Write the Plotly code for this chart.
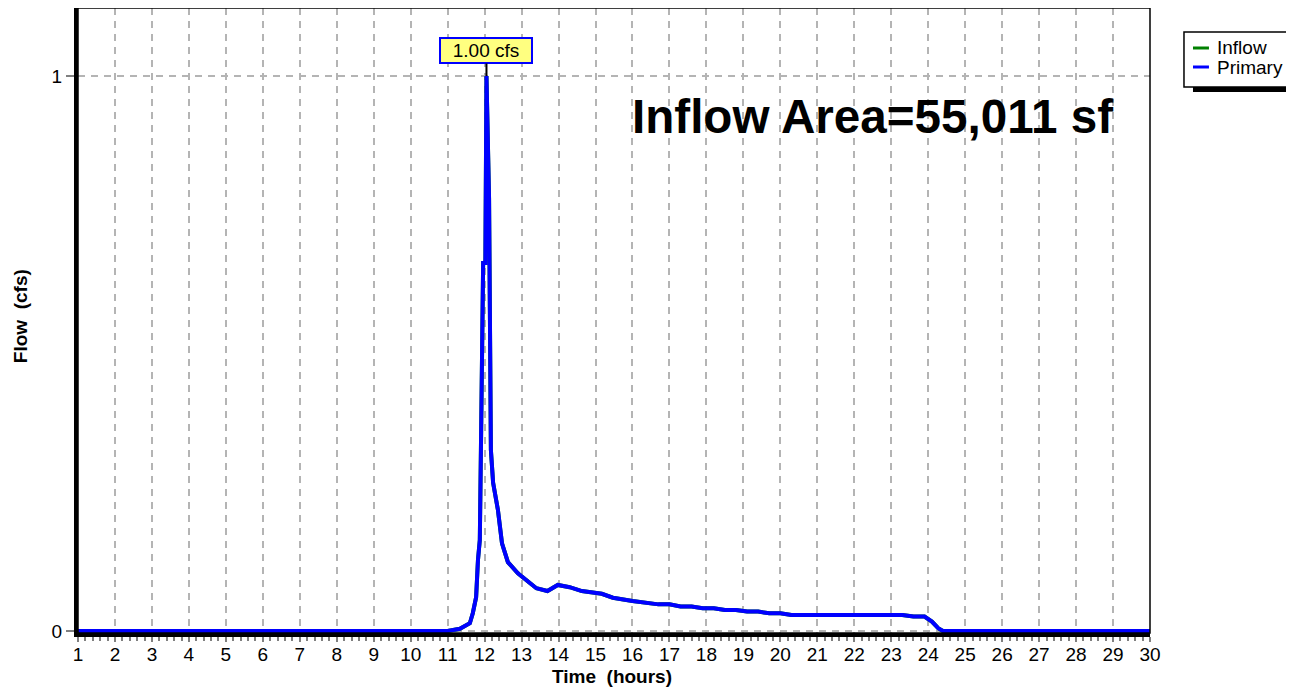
import plotly.graph_objects as go

# Hydrograph data (hours, cfs)
time_hours = [1, 11.0, 11.33, 11.6, 11.68, 11.77, 11.82, 11.87, 11.9, 11.93, 11.96, 12.02,
              12.05, 12.12, 12.15, 12.17, 12.23, 12.36, 12.47, 12.63, 12.9, 13.4, 13.7,
              13.98, 14.3, 14.63, 15.17, 15.47, 16.0, 16.7, 17.0, 17.3, 17.6, 17.9, 18.2,
              18.5, 18.8, 19.1, 19.4, 19.7, 20.0, 20.3, 23.3, 23.6, 23.9, 24.1, 24.27,
              24.4, 30]
primary_cfs = [0, 0, 0.004, 0.014, 0.032, 0.061, 0.128, 0.164, 0.326, 0.56, 0.663, 0.663,
               1.0, 0.78, 0.55, 0.326, 0.267, 0.218, 0.158, 0.124, 0.104, 0.077, 0.072,
               0.083, 0.079, 0.072, 0.067, 0.060, 0.054, 0.048, 0.048, 0.044, 0.044, 0.041,
               0.041, 0.038, 0.038, 0.035, 0.035, 0.032, 0.032, 0.029, 0.029, 0.026, 0.026,
               0.017, 0.005, 0.0, 0.0]
inflow_cfs = primary_cfs

x_ticks = list(range(1, 31))
y_ticks = [0, 1]
peak_time = 12.05
peak_value = 1.00
peak_label = "1.00 cfs"
area_label = "Inflow Area=55,011 sf"
series_names = ["Inflow", "Primary"]
series_colors = ["#008000", "#0000ff"]

FONT = "Liberation Sans, Arial, sans-serif"

fig = go.Figure()
fig.add_trace(go.Scatter(x=time_hours, y=inflow_cfs, mode="lines", name=series_names[0],
                         line=dict(color=series_colors[0], width=4), showlegend=False))
fig.add_trace(go.Scatter(x=time_hours, y=primary_cfs, mode="lines", name=series_names[1],
                         line=dict(color=series_colors[1], width=4), showlegend=False))

fig.add_annotation(x=peak_time, y=peak_value, text=peak_label, showarrow=True,
                   arrowhead=0, arrowcolor="black", arrowwidth=2, ax=0, ay=-25,
                   bgcolor="#ffff80", bordercolor="#0000ff", borderwidth=2, borderpad=1,
                   font=dict(family=FONT, size=19, color="black"), width=88)
fig.add_annotation(x=0.7416, y=0.827, xref="paper", yref="paper", text="<b>" + area_label + "</b>",
                   showarrow=False, xanchor="center", yanchor="middle",
                   font=dict(family=FONT, size=47.6, color="black"))
# axis titles
fig.add_annotation(x=0.498, y=-0.069, xref="paper", yref="paper", text="<b>Time  (hours)</b>",
                   showarrow=False, xanchor="center", yanchor="middle",
                   font=dict(family=FONT, size=19, color="black"))
fig.add_annotation(x=-0.0541, y=0.507, xref="paper", yref="paper", text="<b>Flow  (cfs)</b>",
                   showarrow=False, xanchor="center", yanchor="middle", textangle=-90,
                   font=dict(family=FONT, size=19, color="black"))

# plot border (thin top/right)
fig.add_shape(type="rect", xref="paper", yref="paper", x0=0, y0=0, x1=1, y1=1,
              line=dict(color="black", width=1.5), layer="above")

# manual legend with drop shadow
fig.add_shape(type="rect", xref="paper", yref="paper", x0=1.0401, x1=1.1325, y0=0.8656, y1=0.9536,
              line=dict(width=0), fillcolor="black", layer="above")
fig.add_shape(type="rect", xref="paper", yref="paper", x0=1.0317, x1=1.1278, y0=0.8736, y1=0.9616,
              line=dict(color="black", width=1.5), fillcolor="white", layer="above")
legend_y = [0.936, 0.9056]
for name, color, ly in zip(series_names, series_colors, legend_y):
    fig.add_shape(type="line", xref="paper", yref="paper", x0=1.0401, x1=1.0550, y0=ly, y1=ly,
                  line=dict(color=color, width=3), layer="above")
    fig.add_annotation(x=1.0606, y=ly, xref="paper", yref="paper", text=name, showarrow=False,
                       xanchor="left", yanchor="middle",
                       font=dict(family=FONT, size=19, color="black"))

grid = dict(showgrid=True, gridcolor="#b4b4b4", griddash="7px,6px", gridwidth=1.5)
fig.update_xaxes(range=[1, 30], tickvals=x_ticks, ticktext=[str(v) for v in x_ticks],
                 ticks="outside", ticklen=5, tickwidth=1.5, tickcolor="#808080",
                 ticklabelstandoff=-4,
                 minor=dict(dtick=0.2, ticks="outside", ticklen=4, tickcolor="#808080", showgrid=False),
                 showline=True, linecolor="black", linewidth=4, zeroline=False,
                 tickfont=dict(family=FONT, size=19, color="black"),
                 **grid)
fig.update_yaxes(range=[-0.0036, 1.1225], tickvals=y_ticks, ticktext=["0", "1"],
                 ticks="outside", ticklen=8, tickwidth=1.5, tickcolor="#808080",
                 showline=True, linecolor="black", linewidth=4, zeroline=False,
                 tickfont=dict(family=FONT, size=19, color="black"),
                 **grid)

# page body has an 8px margin, so the figure is sized/margined to compensate
fig.update_layout(
    width=1286, height=680,
    margin=dict(l=70, r=144, t=0, b=55),
    plot_bgcolor="white", paper_bgcolor="white",
    showlegend=False,
)

fig.write_html("out.html")
